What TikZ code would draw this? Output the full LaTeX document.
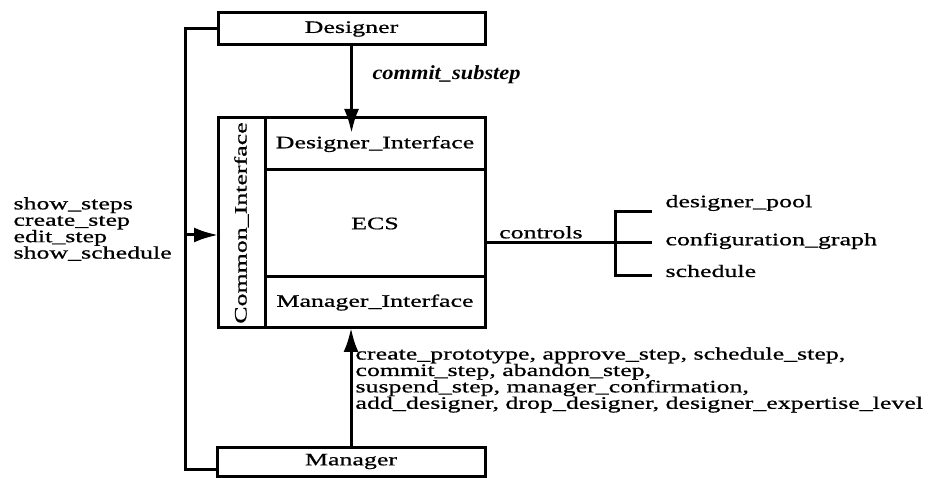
\documentclass[tikz,border=0pt]{standalone}
\usepackage{fontspec}
\setmainfont{Liberation Serif}[FakeStretch=1.48,FakeBold=0.8]
\newfontfamily\plainserif{Liberation Serif}[FakeStretch=1.12]
\usetikzlibrary{positioning,calc,arrows.meta}

\begin{document}
\begin{tikzpicture}[x=1pt,y=-1pt,line width=3pt,
				lbl/.style={font=\fontsize{17.5pt}{16.4pt}\selectfont,inner sep=1pt},
				block/.style={lbl,outer sep=0pt,draw,rectangle,node distance=0pt},
				link/.style={-{Latex[length=24pt,width=15pt]}}]
				\useasboundingbox (0,0) rectangle (940,478);
				\node (D)     [block,minimum width=267pt,minimum height=32pt] at (351.5,29)  {Designer};
				\node (M)     [block,minimum width=268pt,minimum height=29pt] at (351,461.5) {Manager};
				\node (CI)    [block,minimum width=47pt,minimum height=210pt] at (241.5,223) {};
				\node (DI)    [block,minimum width=220pt,minimum height=52pt,anchor=north west] at (CI.north east) {Designer\_Interface};
				\node (ECS)   [block,minimum width=220pt,minimum height=107pt,below=of DI] {ECS};
				\node (MI)    [block,minimum width=220pt,minimum height=51pt,below=of ECS] {Manager\_Interface};
				\node (CIlbl) [lbl,rotate=90] at (CI.center) {Common\_Interface};
				\node (sub)   [lbl,anchor=west] at (370,75) {\fontsize{20pt}{20pt}\plainserif\bfseries\itshape commit\_substep};
				\node (dops)  [lbl,align=left,anchor=west] at (11,229) {show\_steps\\create\_step\\edit\_step\\show\_schedule};
				\node (mops)  [lbl,align=left,anchor=west] at (353,380) {create\_prototype, approve\_step, schedule\_step,\\commit\_step, abandon\_step,\\suspend\_step, manager\_confirmation,\\add\_designer, drop\_designer, designer\_expertise\_level};
				\coordinate (tap)   at (185,235);
				\coordinate (fork)  at (615,243);
				\coordinate (tpool) at (652,212);
				\coordinate (tcfg)  at (652,243);
				\coordinate (tsch)  at (652,276);
				\node (pool)  [lbl,anchor=west] at (663,203) {designer\_pool};
				\node (cfg)   [lbl,anchor=west] at (663,241) {configuration\_graph};
				\node (sch)   [lbl,anchor=west] at (663,271) {schedule};
				
				\draw (D.west) -- ++(-33,0) |- ([yshift=-8pt]M.west);
				\draw[link] (tap) -- (tap -| CI.west);
				\draw[link,shorten >=-15pt] (D.south) -- (D.south |- DI.north);
				\draw[link] (M.north) -- (M.north |- MI.south);
				\draw (ECS.east |- fork) -- node[lbl,above=2pt,pos=0.43] {controls} (fork);
				\draw (tpool) -| (fork) |- (tsch) (fork) -- (tcfg);
			\end{tikzpicture}
\end{document}
